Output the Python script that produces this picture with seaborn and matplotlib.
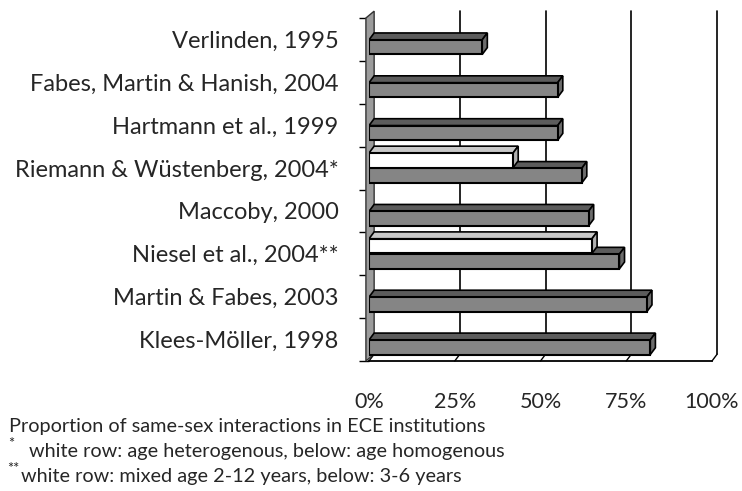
import numpy as np
import pandas as pd
import matplotlib
matplotlib.use("Agg")
import matplotlib.pyplot as plt
from matplotlib.patches import Polygon
import seaborn as sns

# data (percent)
studies = ["Verlinden, 1995", "Fabes, Martin & Hanish, 2004", "Hartmann et al., 1999",
           "Riemann & Wüstenberg, 2004*", "Maccoby, 2000", "Niesel et al., 2004**",
           "Martin & Fabes, 2003", "Klees-Möller, 1998"]
white_row = [np.nan, np.nan, np.nan, 42, np.nan, 65, np.nan, np.nan]
main_row = [33, 55, 55, 62, 64, 73, 81, 82]
x_ticks = [0, 25, 50, 75, 100]
x_labels = ["0%", "25%", "50%", "75%", "100%"]

df = pd.DataFrame({"study": studies * 2,
                   "share": white_row + main_row,
                   "row": ["white"] * len(studies) + ["main"] * len(studies)})
df = df.dropna()

sns.set_style("white")
plt.rcParams["font.family"] = ["Lato", "DejaVu Sans"]

fig = plt.figure(figsize=(7.42, 4.91), dpi=100)
ax = fig.add_axes([369 / 742, 1 - 361 / 491, 343 / 742, 343 / 491])

pal = {"white": "#ffffff", "main": "#858585"}
sns.barplot(data=df, x="share", y="study", hue="row", order=studies,
            hue_order=["white", "main"], palette=pal, orient="h",
            width=0.72, gap=0.05, edgecolor="black", linewidth=1.5,
            legend=False, ax=ax)

ax.set_xlim(0, 100)
ax.set_ylim(len(studies) - 0.5, -0.5)

# 3d depth offset (x in percent, y in category units)
dx, dy = 1.5, 0.16
top_col = {"white": "#c8c8c8", "main": "#5c5c5c"}
side_col = {"white": "#b0b0b0", "main": "#6c6c6c"}

for p in list(ax.patches):
    w = p.get_width()
    if not np.isfinite(w) or w == 0:
        continue
    kind = "white" if p.get_facecolor()[0] > 0.9 else "main"
    z = 4 if kind == "white" else 3
    y0 = p.get_y()
    y1 = y0 + p.get_height()
    top = Polygon([(0, y0), (w, y0), (w + dx, y0 - dy), (dx, y0 - dy)],
                  closed=True, facecolor=top_col[kind], edgecolor="black",
                  linewidth=1.2, zorder=z)
    side = Polygon([(w, y0), (w, y1), (w + dx, y1 - dy), (w + dx, y0 - dy)],
                   closed=True, facecolor=side_col[kind], edgecolor="black",
                   linewidth=1.2, zorder=z)
    ax.add_patch(top)
    ax.add_patch(side)
    p.set_zorder(z + 0.5)

# back wall gridlines and floor
n = len(studies)
for v in x_ticks:
    if v > 0:
        ax.plot([v + dx, v + dx], [n - 0.5 - dy, -0.5 - dy], color="black",
                lw=1.2, zorder=1, clip_on=False)
    ax.plot([v, v + dx], [n - 0.5, n - 0.5 - dy], color="black", lw=1.0,
            zorder=1, clip_on=False)

# side wall on the left
wall = Polygon([(-0.9, n - 0.5), (-0.9, -0.5), (dx, -0.5 - dy), (dx, n - 0.5 - dy)],
               closed=True, facecolor="#9c9c9c", edgecolor="#333333",
               linewidth=1.0, zorder=2, clip_on=False)
ax.add_patch(wall)

for s in ["top", "right", "left"]:
    ax.spines[s].set_visible(False)
ax.spines["bottom"].set_linewidth(1.3)
ax.spines["bottom"].set_color("black")
ax.grid(False)

ax.set_xticks(x_ticks)
ax.set_xticklabels(x_labels)
ax.tick_params(axis="x", direction="out", length=5, width=1.2, color="black",
               pad=17, labelsize=15.5)
ax.set_yticks(range(n))
ax.set_yticklabels(studies, va="center_baseline")
ax.set_yticks(np.arange(n + 1) - 0.5, minor=True)
ax.tick_params(axis="y", which="major", left=True, length=0, pad=22, labelsize=17)
ax.tick_params(axis="y", which="minor", left=True, direction="out", length=7,
               width=1.0, color="black")
ax.set_xlabel("")
ax.set_ylabel("")

# footnotes
fs = 14.3
fig.text(9 / 742, 1 - 432 / 491, "Proportion of same-sex interactions in ECE institutions",
         fontsize=fs, va="baseline", ha="left")
fig.text(8 / 742, 1 - 448 / 491, "*", fontsize=10.5, va="baseline", ha="left")
fig.text(29 / 742, 1 - 457 / 491, "white row: age heterogenous, below: age homogenous",
         fontsize=fs, va="baseline", ha="left")
fig.text(7 / 742, 1 - 473 / 491, "**", fontsize=10.5, va="baseline", ha="left")
fig.text(21 / 742, 1 - 482 / 491, "white row: mixed age 2-12 years, below: 3-6 years",
         fontsize=fs, va="baseline", ha="left")

fig.savefig("out.png", dpi=100)
